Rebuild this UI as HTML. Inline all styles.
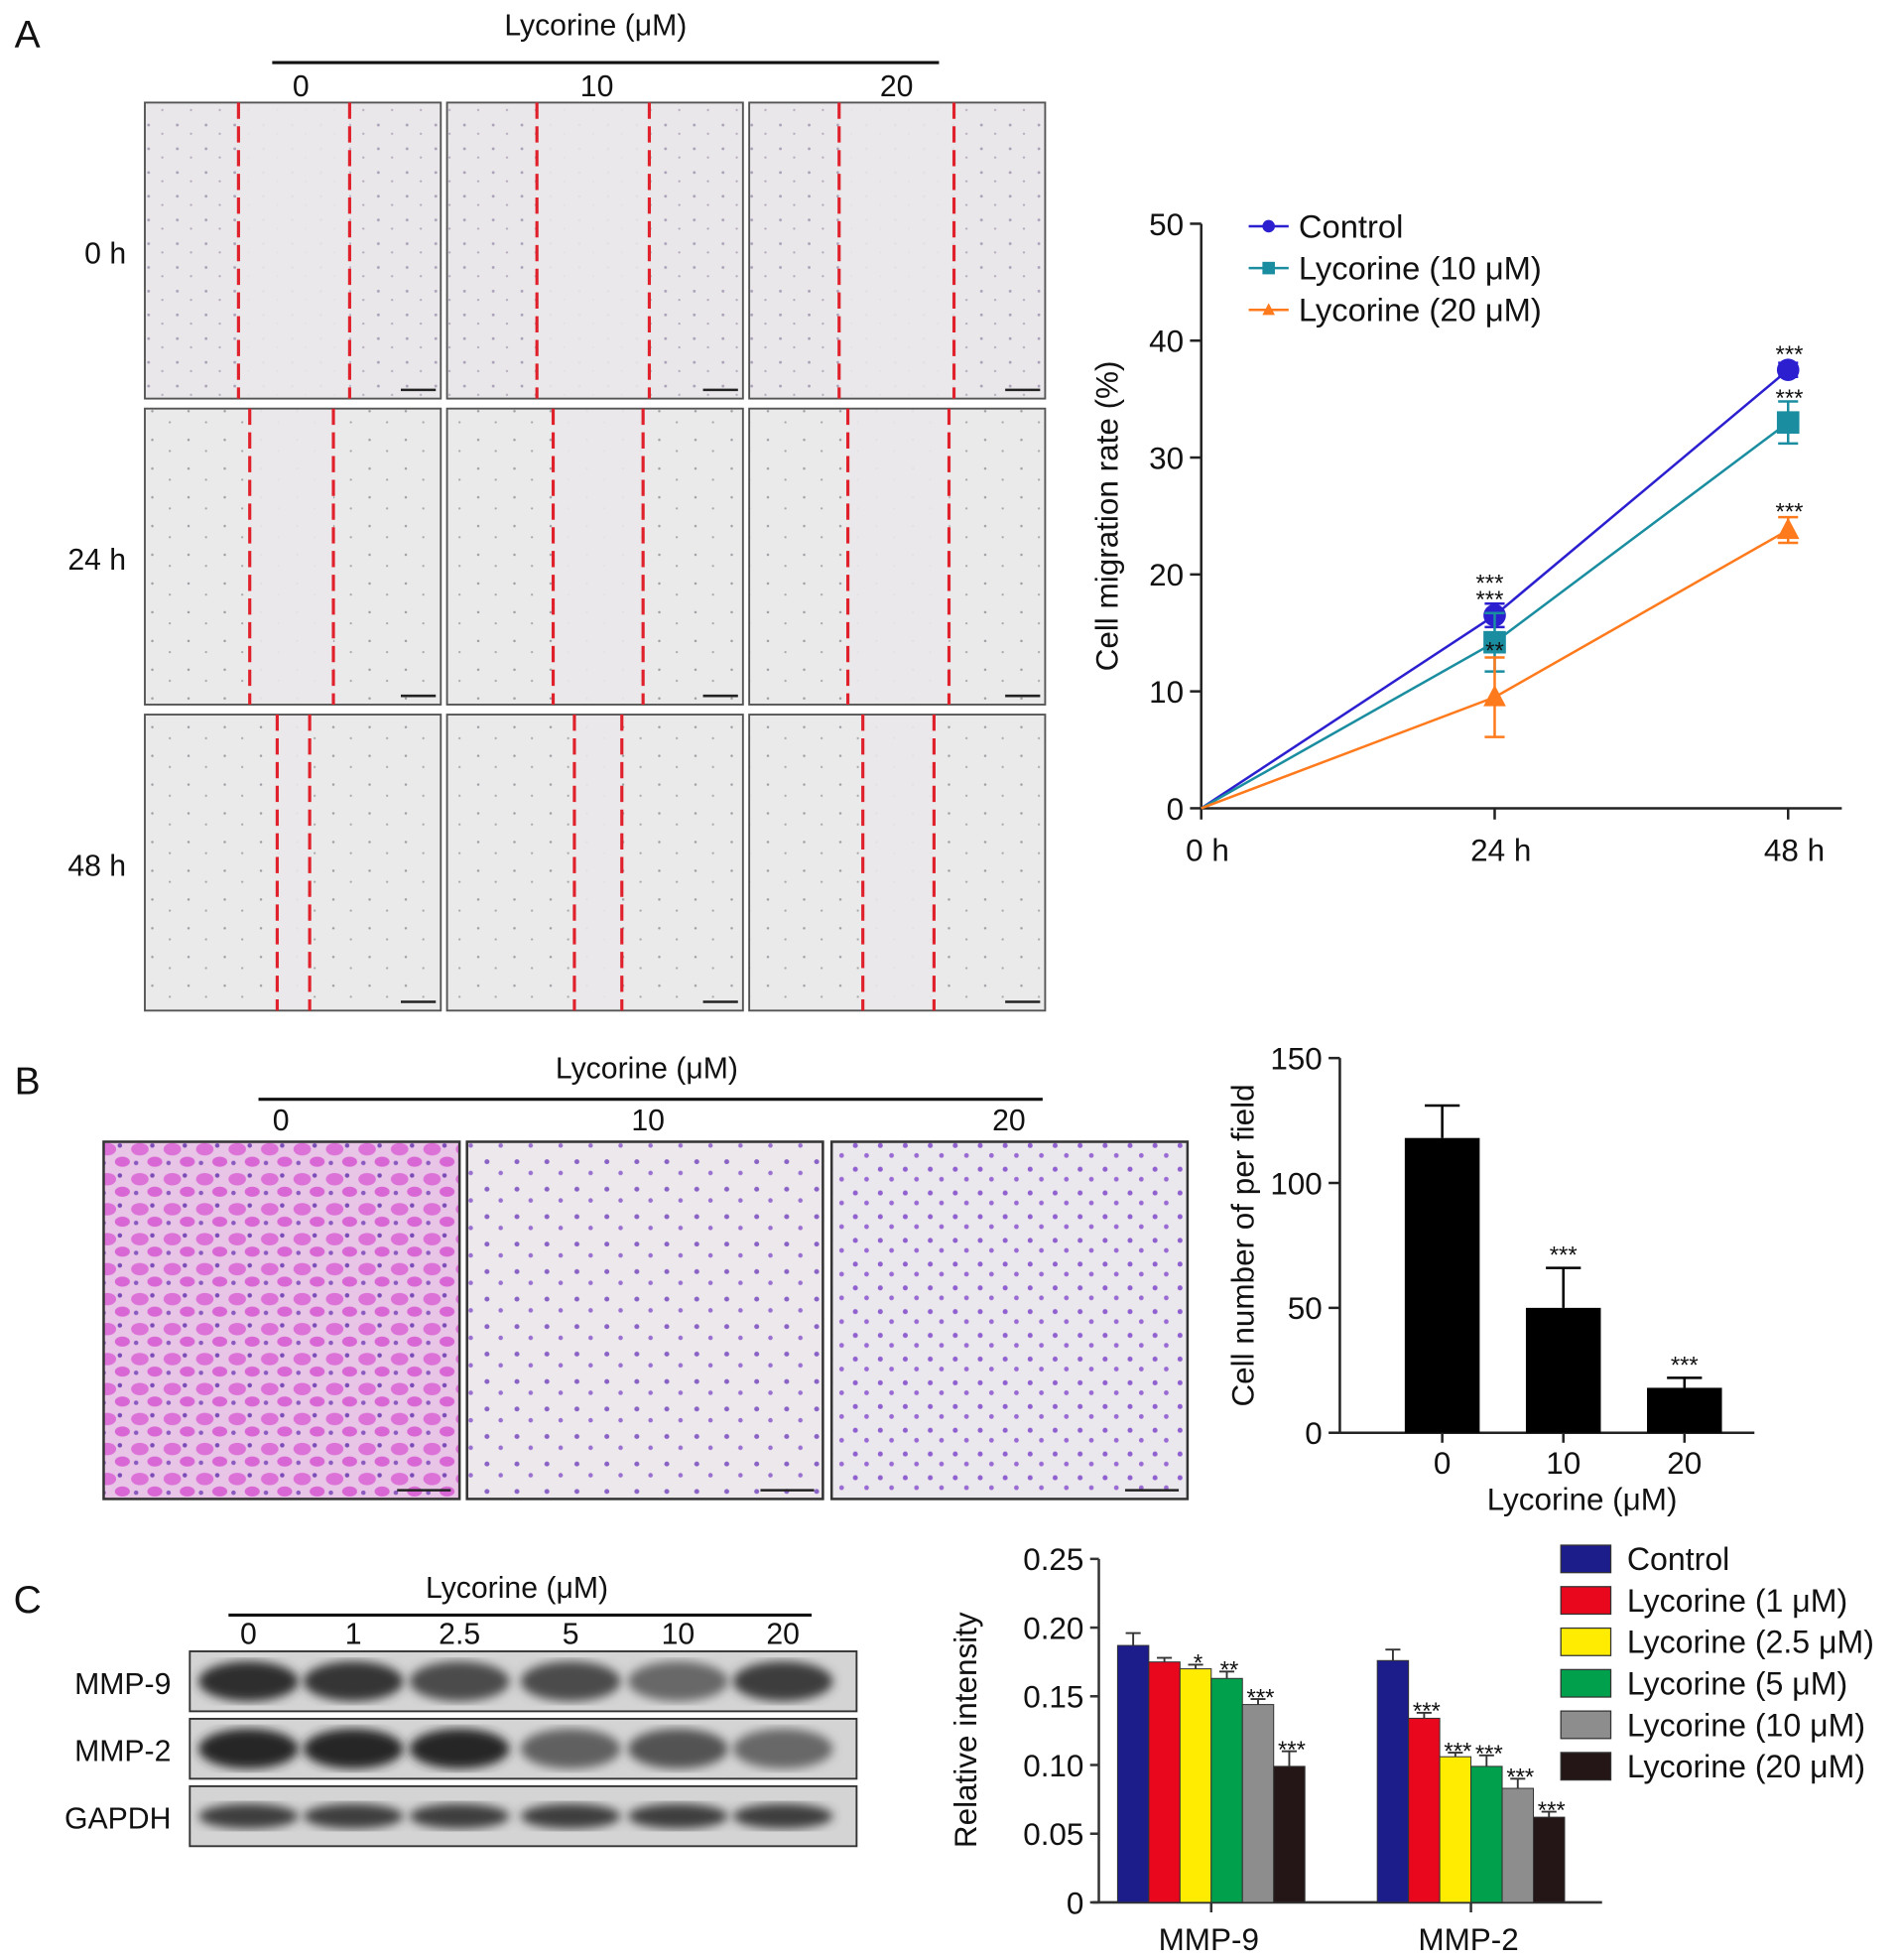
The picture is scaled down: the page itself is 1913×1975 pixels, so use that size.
<!DOCTYPE html>
<html><head><meta charset="utf-8"><style>
html,body{margin:0;padding:0;background:#fff;}
svg{display:block;font-family:"Liberation Sans",Arial,sans-serif;}
</style></head><body>
<svg id="fig" width="1913" height="1975" viewBox="0 0 1520 1569" xmlns="http://www.w3.org/2000/svg">
<defs>
<pattern id="cellsA" width="23" height="19" patternUnits="userSpaceOnUse">
<rect width="23" height="19" fill="#e9e7e9"/>
<circle cx="4" cy="5" r="1.1" fill="#aaa0b8"/><circle cx="15" cy="12" r="0.9" fill="#b4aabc"/>
</pattern>
<pattern id="cellsB" width="29" height="23" patternUnits="userSpaceOnUse">
<rect width="29" height="23" fill="#ebeaeb"/>
<circle cx="6" cy="7" r="1" fill="#a0a0a4"/><circle cx="20" cy="16" r="0.9" fill="#aaa"/>
</pattern>
<pattern id="dense" width="26" height="24" patternUnits="userSpaceOnUse">
<rect width="26" height="24" fill="#e8c4e6"/>
<ellipse cx="8" cy="8" rx="7" ry="5" fill="#dc72d8"/><ellipse cx="20" cy="18" rx="6" ry="4" fill="#d866d4"/>
<circle cx="18" cy="5" r="1.8" fill="#7a4cb8"/><circle cx="5" cy="19" r="1.8" fill="#8a5ac0"/>
</pattern>
<pattern id="sparse" width="24" height="22" patternUnits="userSpaceOnUse">
<rect width="24" height="22" fill="#ece8ec"/>
<circle cx="6" cy="6" r="2" fill="#8a62c6"/><circle cx="17" cy="15" r="1.8" fill="#9a70d0"/>
</pattern>
<pattern id="sparse2" width="20" height="19" patternUnits="userSpaceOnUse">
<rect width="20" height="19" fill="#eae8ec"/>
<circle cx="5" cy="5" r="2" fill="#9060d0"/><circle cx="14" cy="13" r="1.9" fill="#9a6ad4"/>
</pattern>
<filter id="blur"><feGaussianBlur stdDeviation="4"/></filter>
</defs>
<g id="root"></g>
</svg>
<script>
// ---- Panel A line chart data ----
const timeLabels = ["0 h", "24 h", "48 h"];
const seriesNames = ["Control", "Lycorine (10 μM)", "Lycorine (20 μM)"];
const controlVals = [0, 16.5, 37.5];
const lyc10Vals = [0, 14.2, 33.0];
const lyc20Vals = [0, 9.5, 23.8];
const controlErr = [0, 1.0, 0.6];
const lyc10Err = [0, 2.5, 1.8];
const lyc20Err = [0, 3.4, 1.1];
const lineYTicks = [0, 10, 20, 30, 40, 50];
// ---- Panel B bar data ----
const bCats = ["0", "10", "20"];
const bVals = [118, 50, 18];
const bErr = [13, 16, 4];
const bStars = ["", "***", "***"];
const bYTicks = [0, 50, 100, 150];
// ---- Panel C bar data ----
const cGroups = ["MMP-9", "MMP-2"];
const cSeries = ["Control", "Lycorine (1 μM)", "Lycorine (2.5 μM)", "Lycorine (5 μM)", "Lycorine (10 μM)", "Lycorine (20 μM)"];
const mmp9Vals = [0.187, 0.175, 0.170, 0.163, 0.144, 0.099];
const mmp9Err = [0.009, 0.003, 0.003, 0.005, 0.004, 0.011];
const mmp9Stars = ["", "", "*", "**", "***", "***"];
const mmp2Vals = [0.176, 0.134, 0.106, 0.099, 0.083, 0.062];
const mmp2Err = [0.008, 0.004, 0.003, 0.008, 0.007, 0.004];
const mmp2Stars = ["", "***", "***", "***", "***", "***"];
const cYTicks = [0, 0.05, 0.10, 0.15, 0.20, 0.25];

const NS = "http://www.w3.org/2000/svg";
const root = document.getElementById("root");
function mk(tag, attrs, parent, text) {
  const e = document.createElementNS(NS, tag);
  for (const k in attrs) e.setAttribute(k, attrs[k]);
  if (text !== undefined) e.textContent = text;
  (parent || root).appendChild(e);
  return e;
}
function txt(x, y, s, size, anchor, parent, name) {
  const t = mk("text", {x: x, y: y, "font-size": size, "text-anchor": anchor || "middle", fill: "#111"}, parent, s);
  
  
  return t;
}

// ===== Panel A header & images =====
txt(22, 38, "A", 31, "middle", root, "panel-a-letter");
txt(477, 28, "Lycorine (μM)", 24, "middle", root, "panel-a-header");
mk("line", {x1: 218, y1: 50, x2: 752, y2: 50, stroke: "#111", "stroke-width": 2.5});
txt(241, 77, "0", 24); txt(478, 77, "10", 24); txt(718, 77, "20", 24);
const colX = [116, 358, 600];
const rowY = [82, 327, 572];
const rowLbl = ["0 h", "24 h", "48 h"];
const dash = [[[191, 280], [430, 520], [672, 764]], [[200, 267], [443, 515], [679, 760]], [[222, 248], [460, 498], [691, 748]]];
for (let r = 0; r < 3; r++) {
  txt(101, rowY[r] + 129, rowLbl[r], 24, "end", root, "row-label");
  for (let c = 0; c < 3; c++) {
    const g = mk("g", {});
    
    
    mk("rect", {x: colX[c], y: rowY[r], width: 237, height: 237, fill: r === 0 ? "url(#cellsA)" : "url(#cellsB)", stroke: "#555", "stroke-width": 1.5}, g);
    const [a, b] = dash[r][c];
    mk("rect", {x: a, y: rowY[r] + 1, width: b - a, height: 235, fill: "#eae8ea", opacity: 0.9}, g);
    mk("line", {x1: a, y1: rowY[r], x2: a, y2: rowY[r] + 237, stroke: "#e0202a", "stroke-width": 2.5, "stroke-dasharray": "13,6"}, g);
    mk("line", {x1: b, y1: rowY[r], x2: b, y2: rowY[r] + 237, stroke: "#e0202a", "stroke-width": 2.5, "stroke-dasharray": "13,6"}, g);
    mk("line", {x1: colX[c] + 205, y1: rowY[r] + 230, x2: colX[c] + 233, y2: rowY[r] + 230, stroke: "#222", "stroke-width": 2}, g);
  }
}

// ===== Panel A line chart =====
const L = {x0: 962, y0: 647, yTop: 179, xs: [962, 1197, 1432]};
function ly(v) { return L.y0 - (v / 50) * (L.y0 - L.yTop); }
function lx(i) { return L.xs[0] + i * (L.xs[2] - L.xs[0]) / (timeLabels.length - 1); }
mk("line", {x1: L.x0, y1: L.yTop, x2: L.x0, y2: L.y0, stroke: "#222", "stroke-width": 2});
mk("line", {x1: L.x0, y1: L.y0, x2: 1475, y2: L.y0, stroke: "#222", "stroke-width": 2});
lineYTicks.forEach(v => {
  mk("line", {x1: L.x0 - 9, y1: ly(v), x2: L.x0, y2: ly(v), stroke: "#222", "stroke-width": 2});
  txt(L.x0 - 14, ly(v) + 9, String(v), 25, "end", root, "y-tick-label");
});
timeLabels.forEach((s, i) => {
  mk("line", {x1: lx(i), y1: L.y0, x2: lx(i), y2: L.y0 + 9, stroke: "#222", "stroke-width": 2});
  txt(lx(i) + 5, L.y0 + 42, s, 25, "middle", root, "x-tick-label");
});
const yt = txt(0, 0, "Cell migration rate (%)", 25, "middle", root, "y-axis-title");
yt.setAttribute("transform", "translate(895,413) rotate(-90)");
const lSeries = [
  {v: controlVals, e: controlErr, c: "#2b1fd0", m: "circle"},
  {v: lyc10Vals, e: lyc10Err, c: "#1a8ea0", m: "square"},
  {v: lyc20Vals, e: lyc20Err, c: "#ff7a1c", m: "tri"}
];
function marker(kind, x, y, s, col, g) {
  if (kind === "circle") mk("circle", {cx: x, cy: y, r: s, fill: col}, g);
  else if (kind === "square") mk("rect", {x: x - s, y: y - s, width: 2 * s, height: 2 * s, fill: col}, g);
  else mk("polygon", {points: `${x},${y - s * 1.1} ${x - s},${y + s * 0.8} ${x + s},${y + s * 0.8}`, fill: col}, g);
}
lSeries.forEach((s, si) => {
  const g = mk("g", {});
  
  
  mk("polyline", {points: s.v.map((v, i) => lx(i) + "," + ly(v)).join(" "), fill: "none", stroke: s.c, "stroke-width": 2}, g);
  s.v.forEach((v, i) => {
    if (i === 0) return;
    const x = lx(i);
    mk("line", {x1: x, y1: ly(v + s.e[i]), x2: x, y2: ly(v - s.e[i]), stroke: s.c, "stroke-width": 2}, g);
    mk("line", {x1: x - 8, y1: ly(v + s.e[i]), x2: x + 8, y2: ly(v + s.e[i]), stroke: s.c, "stroke-width": 2}, g);
    mk("line", {x1: x - 8, y1: ly(v - s.e[i]), x2: x + 8, y2: ly(v - s.e[i]), stroke: s.c, "stroke-width": 2}, g);
    marker(s.m, x, ly(v), 9, s.c, g);
  });
  const lg = mk("g", {});
  
  
  const yy = 181 + si * 33.5;
  mk("line", {x1: 1000, y1: yy, x2: 1032, y2: yy, stroke: s.c, "stroke-width": 2}, lg);
  marker(s.m, 1016, yy, 5, s.c, lg);
  txt(1040, yy + 9, seriesNames[si], 26, "start", lg, "legend-text");
});
txt(1193, 473, "***", 19); txt(1193, 486, "***", 19);
txt(1197, 527, "**", 19);
txt(1433, 290, "***", 19); txt(1433, 325, "***", 19); txt(1433, 416, "***", 19);

// ===== Panel B =====
txt(22, 876, "B", 31, "middle", root, "panel-b-letter");
txt(518, 863, "Lycorine (μM)", 24, "middle", root, "panel-b-header");
mk("line", {x1: 207, y1: 880, x2: 835, y2: 880, stroke: "#111", "stroke-width": 2.5});
txt(225, 905, "0", 24); txt(519, 905, "10", 24); txt(808, 905, "20", 24);
const bImgX = [83, 374, 666];
const bFill = ["url(#dense)", "url(#sparse)", "url(#sparse2)"];
bImgX.forEach((x, i) => {
  const r = mk("rect", {x: x, y: 914, width: 285, height: 286, fill: bFill[i], stroke: "#333", "stroke-width": 2});
  
  
  mk("line", {x1: x + 235, y1: 1193, x2: x + 278, y2: 1193, stroke: "#222", "stroke-width": 2});
});
const B = {x0: 1073, y0: 1147, yTop: 847, xs: [1155, 1253, 1349], w: 60};
function by(v) { return B.y0 - (v / 150) * (B.y0 - B.yTop); }
mk("line", {x1: B.x0, y1: B.yTop, x2: B.x0, y2: B.y0, stroke: "#222", "stroke-width": 2});
mk("line", {x1: B.x0, y1: B.y0, x2: 1405, y2: B.y0, stroke: "#222", "stroke-width": 2});
bYTicks.forEach(v => {
  mk("line", {x1: B.x0 - 9, y1: by(v), x2: B.x0, y2: by(v), stroke: "#222", "stroke-width": 2});
  txt(B.x0 - 14, by(v) + 9, String(v), 25, "end", root, "y-tick-label");
});
bCats.forEach((c, i) => {
  const x = B.xs[0] + i * (B.xs[2] - B.xs[0]) / (bCats.length - 1);
  const bar = mk("rect", {x: x - B.w / 2, y: by(bVals[i]), width: B.w, height: B.y0 - by(bVals[i]), fill: "#000"});
  
  
  const top = by(bVals[i] + bErr[i]);
  mk("line", {x1: x, y1: by(bVals[i]), x2: x, y2: top, stroke: "#000", "stroke-width": 2});
  mk("line", {x1: x - 14, y1: top, x2: x + 14, y2: top, stroke: "#000", "stroke-width": 2});
  if (bStars[i]) txt(x, top - 4, bStars[i], 19, "middle", root, "significance");
  mk("line", {x1: x, y1: B.y0, x2: x, y2: B.y0 + 8, stroke: "#222", "stroke-width": 2});
  txt(x, B.y0 + 33, c, 25, "middle", root, "x-tick-label");
});
txt(1267, 1209, "Lycorine (μM)", 25, "middle", root, "x-axis-title");
const byt = txt(0, 0, "Cell number of per field", 25, "middle", root, "y-axis-title");
byt.setAttribute("transform", "translate(1004,997) rotate(-90)");

// ===== Panel C blot =====
txt(22, 1291, "C", 31, "middle", root, "panel-c-letter");
txt(414, 1279, "Lycorine (μM)", 24, "middle", root, "panel-c-header");
mk("line", {x1: 183, y1: 1293, x2: 650, y2: 1293, stroke: "#111", "stroke-width": 2.5});
const laneX = [199, 283, 368, 457, 543, 627];
["0", "1", "2.5", "5", "10", "20"].forEach((s, i) => txt(laneX[i], 1316, s, 24));
const blotRows = [{y: 1322, n: "MMP-9", k: [0.95, 0.9, 0.75, 0.75, 0.55, 0.85]}, {y: 1376, n: "MMP-2", k: [1, 1, 1, 0.6, 0.7, 0.55]}, {y: 1430, n: "GAPDH", k: [0.85, 0.85, 0.85, 0.85, 0.85, 0.85]}];
blotRows.forEach(r => {
  const g = mk("g", {});
  
  
  mk("rect", {x: 152, y: r.y, width: 534, height: 48, fill: "#d4d4d4", stroke: "#333", "stroke-width": 1.5}, g);
  const cl = mk("clipPath", {id: "cl" + r.y}, g);
  mk("rect", {x: 153, y: r.y + 1, width: 532, height: 46}, cl);
  const bg = mk("g", {"clip-path": "url(#cl" + r.y + ")"}, g);
  laneX.forEach((x, i) => {
    const v = Math.round(40 + (1 - r.k[i]) * 140);
    mk("ellipse", {cx: x, cy: r.y + 24, rx: 40, ry: r.n === "GAPDH" ? 10 : 16, fill: `rgb(${v},${v},${v})`, filter: "url(#blur)"}, bg);
  });
  txt(137, r.y + 34, r.n, 24, "end", root, "blot-label");
});

// ===== Panel C bar chart =====
const C = {x0: 880, y0: 1523, yTop: 1248, gStart: [895, 1103], bw: 25};
const cColors = ["#1c1c8a", "#e8071d", "#ffec00", "#00a04c", "#8d8d8d", "#241616"];
function cy(v) { return C.y0 - (v / 0.25) * (C.y0 - C.yTop); }
mk("line", {x1: C.x0, y1: C.yTop, x2: C.x0, y2: C.y0, stroke: "#333", "stroke-width": 2});
mk("line", {x1: C.x0 - 5, y1: C.y0, x2: 1283, y2: C.y0, stroke: "#333", "stroke-width": 2});
cYTicks.forEach(v => {
  mk("line", {x1: C.x0 - 7, y1: cy(v), x2: C.x0, y2: cy(v), stroke: "#333", "stroke-width": 2});
  txt(C.x0 - 12, cy(v) + 9, v === 0 ? "0" : v.toFixed(2), 25, "end", root, "y-tick-label");
});
const cyt = txt(0, 0, "Relative intensity", 25, "middle", root, "y-axis-title");
cyt.setAttribute("transform", "translate(782,1385) rotate(-90)");
[[mmp9Vals, mmp9Err, mmp9Stars], [mmp2Vals, mmp2Err, mmp2Stars]].forEach((grp, gi) => {
  const [vals, errs, stars] = grp;
  vals.forEach((v, i) => {
    const x = C.gStart[gi] + i * C.bw;
    const bar = mk("rect", {x: x, y: cy(v), width: C.bw, height: C.y0 - cy(v), fill: cColors[i], stroke: "#333", "stroke-width": 0.8});
    
    
    const cx = x + C.bw / 2, top = cy(v + errs[i]);
    mk("line", {x1: cx, y1: cy(v), x2: cx, y2: top, stroke: "#333", "stroke-width": 1.5});
    mk("line", {x1: cx - 6, y1: top, x2: cx + 6, y2: top, stroke: "#333", "stroke-width": 1.5});
    if (stars[i]) txt(cx + 2, top + 5, stars[i], 19, "middle", root, "significance");
  });
  const gc = C.gStart[gi] + 3 * C.bw;
  mk("line", {x1: gc, y1: C.y0, x2: gc, y2: C.y0 + 8, stroke: "#333", "stroke-width": 2});
  txt(gc - 2, C.y0 + 38, cGroups[gi], 25, "middle", root, "x-tick-label");
});
cSeries.forEach((s, i) => {
  const g = mk("g", {});
  
  
  const yy = 1248 + i * 33.2;
  mk("rect", {x: 1250, y: yy - 11, width: 40, height: 22, fill: cColors[i], stroke: "#333", "stroke-width": 1}, g);
  txt(1303, yy + 9, s, 25.5, "start", g, "legend-text");
});
</script>
</body></html>
